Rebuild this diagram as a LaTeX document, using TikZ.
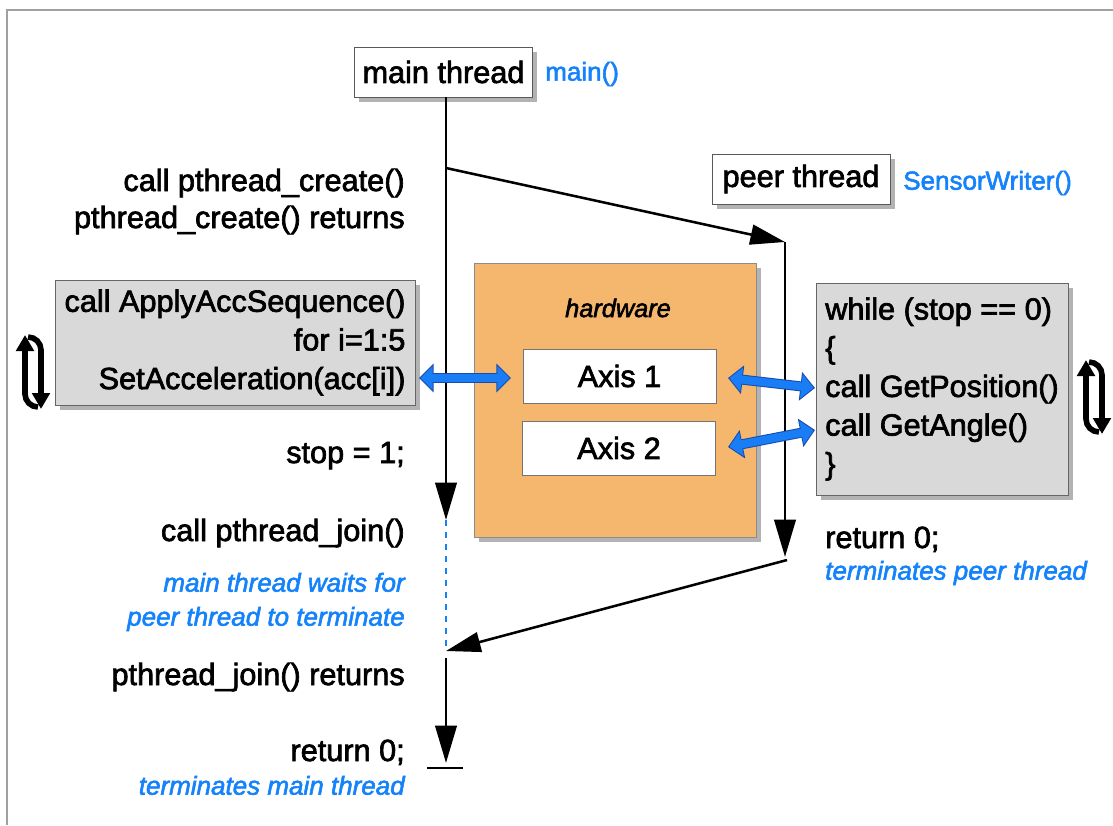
\documentclass[tikz,border=0pt]{standalone}
\usepackage{fontspec}
\setmainfont{Liberation Sans}[FakeBold=2.2]
\usetikzlibrary{arrows.meta,shadows}
\definecolor{txtblue}{RGB}{20,130,250}
\definecolor{arrblue}{RGB}{25,125,245}
\definecolor{arrdark}{RGB}{25,75,175}
\definecolor{hwfill}{RGB}{245,182,110}
\definecolor{boxgray}{RGB}{217,217,217}
\definecolor{framegray}{RGB}{160,160,160}
\tikzset{
  shad/.style={drop shadow={shadow xshift=3.5pt, shadow yshift=-3.5pt, opacity=0.6}},
  threadbox/.style={shad, draw=black!65, line width=0.7pt, fill=white, minimum width=133.5pt, minimum height=37.5pt, inner sep=0pt, font=\fontsize{23}{28}\selectfont},
  codebox/.style={shad, draw=black!60, line width=0.7pt, fill=boxgray, inner sep=0pt, font=\fontsize{23}{29}\selectfont},
  hwbox/.style={shad, draw=black!45, line width=0.6pt, fill=hwfill, inner sep=0pt, minimum width=211.5pt, minimum height=205.5pt},
  axisbox/.style={draw=black!55, line width=0.7pt, fill=white, inner sep=0pt, minimum width=144.75pt, minimum height=40.5pt, font=\fontsize{23}{28}\selectfont},
  lbl/.style={font=\fontsize{23}{28}\selectfont, inner sep=0pt, text height=17pt, text depth=5pt},
  note/.style={font=\fontsize{19.5}{25}\selectfont\itshape, text=txtblue, inner sep=0pt, text height=14pt, text depth=4pt},
  fname/.style={font=\fontsize{19.5}{25}\selectfont, text=txtblue, inner sep=0pt, text height=14pt, text depth=4pt},
  flow/.style={line width=2.2pt, black},
  flowd/.style={line width=1.9pt, black},
  tipv/.style={-{Triangle[length=28pt,width=16pt]}},
  tipd/.style={-{Triangle[length=26pt,width=15pt]}},
  waitline/.style={line width=2.2pt, txtblue, dash pattern=on 4.5pt off 4.5pt},
  fatout/.style={draw=arrdark, line width=7.5pt, {Triangle[length=11pt,width=21pt]}-{Triangle[length=11pt,width=21pt]}},
  fatin/.style={draw=arrblue, line width=6pt, {Triangle[length=9.2pt,width=17.5pt]}-{Triangle[length=9.2pt,width=17.5pt]}, shorten <=1.1pt, shorten >=1.1pt},
  cyc/.pic={
    \draw[line width=4.2pt, -{Triangle[length=12pt,width=13pt]}] (5,35) to[out=180,in=-90] (-8,22) -- (-8,-37);
    \draw[line width=4.2pt, -{Triangle[length=12pt,width=13pt]}] (-5,-35) to[out=0,in=90] (8,-22) -- (8,37);
  }
}
\begin{document}
\begin{tikzpicture}[x=0.75pt,y=-0.75pt]
\useasboundingbox (0,0) rectangle (1113,825);
% frame
\coordinate (frA) at (7,825);
\coordinate (frB) at (7,10);
\coordinate (frC) at (1113,10);
\draw[framegray, line width=1.4pt] (frA) -- (frB) -- (frC);

% boxes
\node[threadbox] (main) at (443.5,72) {main thread};
\node[fname, anchor=west] (mainfn) at (545,74) {main()};
\node[threadbox] (peer) at (801,179) {peer thread};
\node[fname, anchor=west] (peerfn) at (903,183) {SensorWriter()};

\node[hwbox] (hw) at (615,400) {};
\node[font=\fontsize{19}{24}\selectfont\itshape, inner sep=0pt] (hwlbl) at (618,308) {hardware};
\node[axisbox] (ax1) at (619.5,376) {Axis 1};
\node[axisbox] (ax2) at (619,448) {Axis 2};

\node[codebox, minimum width=270pt, minimum height=93.75pt, align=right] (acc) at (235,342.5)
  {call ApplyAccSequence()\\for i=1:5\\SetAcceleration(acc[i])};
\node[codebox, minimum width=189pt, minimum height=159pt, align=left] (loop) at (942,389)
  {while (stop == 0)\\\{\\call GetPosition()\\call GetAngle()\\\}};

% cycle icons
\pic at (33,372) {cyc};
\pic at (1094,397) {cyc};

% labels on left
\node[lbl, anchor=east] (l1) at (405,183) {call pthread\_create()};
\node[lbl, anchor=east] (l2) at (405,220) {pthread\_create() returns};
\node[lbl, anchor=east] (l3) at (405,455) {stop = 1;};
\node[lbl, anchor=east] (l4) at (405,533) {call pthread\_join()};
\node[note, anchor=east] (n1) at (405,585) {main thread waits for};
\node[note, anchor=east] (n2) at (405,619) {peer thread to terminate};
\node[lbl, anchor=east] (l5) at (405,677) {pthread\_join() returns};
\node[lbl, anchor=east] (l6) at (405,753) {return 0;};
\node[note, anchor=east] (n3) at (405,788) {terminates main thread};
% labels on right
\node[lbl, anchor=west] (r1) at (825,540) {return 0;};
\node[note, anchor=west] (r2) at (825,573) {terminates peer thread};

% flow coordinates
\coordinate (mtop) at (446,97);
\coordinate (fork) at (446,168);
\coordinate (mwait) at (446,520);
\coordinate (mjoin) at (446,651);
\coordinate (mres) at (446,658);
\coordinate (mend) at (446,763);
\coordinate (bar1) at (427,768);
\coordinate (bar2) at (463,768);
\coordinate (ptop) at (785,242);
\coordinate (pend) at (785,557);
\coordinate (pret) at (787,560);

\draw[flow, tipv] (mtop) -- (mwait);
\draw[flowd, tipd] (fork) -- (ptop);
\draw[flow, tipv] (ptop) -- (pend);
\draw[flowd, tipd] (pret) -- (mjoin);
\draw[waitline] (mwait) -- (mjoin);
\draw[flow, tipv] (mres) -- (mend);
\draw[flow] (bar1) -- (bar2);

% blue double arrows
\coordinate (a1) at (419,378);
\coordinate (a2) at (511,378);
\coordinate (b1) at (728,378);
\coordinate (b2) at (815,388);
\coordinate (c1) at (728,447);
\coordinate (c2) at (815,430);
\foreach \s/\t in {a1/a2, b1/b2, c1/c2}{
  \draw[fatout] (\s) -- (\t);
  \draw[fatin] (\s) -- (\t);
}
\end{tikzpicture}
\end{document}
